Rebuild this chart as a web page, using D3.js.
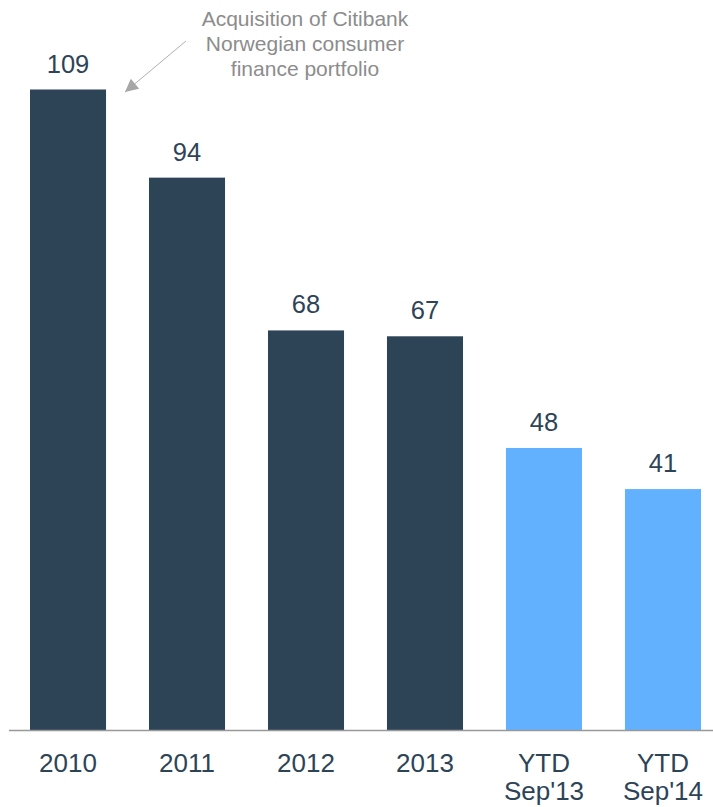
<!DOCTYPE html>
<html>
<head>
<meta charset="utf-8">
<script src="https://cdn.jsdelivr.net/npm/d3@7"></script>
<style>
  html, body { margin: 0; padding: 0; background: #fff; }
  svg { display: block; font-family: "Liberation Sans", Arial, sans-serif; }
</style>
</head>
<body>
<svg id="chart" width="713" height="807"></svg>
<script>
// Category labels (multi-line where needed)
const categories = ["2010", "2011", "2012", "2013", "YTD\nSep'13", "YTD\nSep'14"];
// Values per category
const values = [109, 94, 68, 67, 48, 41];
// Full year vs year-to-date grouping
const periodType = ["year", "year", "year", "year", "ytd", "ytd"];
const annotationLines = ["Acquisition of Citibank", "Norwegian consumer", "finance portfolio"];

const colors = { year: "#2D4457", ytd: "#62B1FE" };
const textColor = "#2D4457";

const svg = d3.select("#chart");
const baseY = 730;

const x = d3.scaleBand()
  .domain(categories)
  .range([8.5, 722.5])
  .paddingInner(0.361)
  .paddingOuter(0.1807);

const y = d3.scaleLinear()
  .domain([0, 109])
  .range([baseY, 89.5]);

// Bars
svg.selectAll("rect.bar")
  .data(values)
  .join("rect")
  .attr("class", "bar")
  .attr("x", (d, i) => x(categories[i]))
  .attr("y", d => y(d))
  .attr("width", x.bandwidth())
  .attr("height", d => baseY - y(d))
  .attr("fill", (d, i) => colors[periodType[i]]);

// Value labels
svg.selectAll("text.val")
  .data(values)
  .join("text")
  .attr("class", "val")
  .attr("x", (d, i) => x(categories[i]) + x.bandwidth() / 2)
  .attr("y", d => y(d) - 17)
  .attr("text-anchor", "middle")
  .attr("font-size", 25.5)
  .attr("fill", textColor)
  .text(d => d);

// Baseline
svg.append("line")
  .attr("x1", 9).attr("x2", 713)
  .attr("y1", baseY + 0.5).attr("y2", baseY + 0.5)
  .attr("stroke", "#999").attr("stroke-width", 1.5);

// Category labels
const cat = svg.selectAll("text.cat")
  .data(categories)
  .join("text")
  .attr("class", "cat")
  .attr("x", d => x(d) + x.bandwidth() / 2)
  .attr("y", 772)
  .attr("text-anchor", "middle")
  .attr("font-size", 26)
  .attr("fill", textColor);
cat.selectAll("tspan")
  .data(d => d.split("\n"))
  .join("tspan")
  .attr("x", function() { return d3.select(this.parentNode).attr("x"); })
  .attr("dy", (d, i) => i === 0 ? 0 : 28)
  .text(d => d);

// Annotation arrow
svg.append("defs").append("marker")
  .attr("id", "arrow")
  .attr("viewBox", "0 0 10 10")
  .attr("refX", 10).attr("refY", 5)
  .attr("markerUnits", "userSpaceOnUse")
  .attr("markerWidth", 16).attr("markerHeight", 13)
  .attr("orient", "auto")
  .append("path")
  .attr("d", "M0,0 L10,5 L0,10 z")
  .attr("fill", "#a6a6a6");

svg.append("line")
  .attr("x1", 186).attr("y1", 41)
  .attr("x2", 125).attr("y2", 92)
  .attr("stroke", "#b0b0b0").attr("stroke-width", 1)
  .attr("marker-end", "url(#arrow)");

svg.append("text")
  .attr("x", 305).attr("y", 26)
  .attr("text-anchor", "middle")
  .attr("font-size", 21)
  .attr("fill", "#8c8c8c")
  .selectAll("tspan")
  .data(annotationLines)
  .join("tspan")
  .attr("x", 305)
  .attr("dy", (d, i) => i === 0 ? 0 : 25)
  .text(d => d);
</script>
</body>
</html>
